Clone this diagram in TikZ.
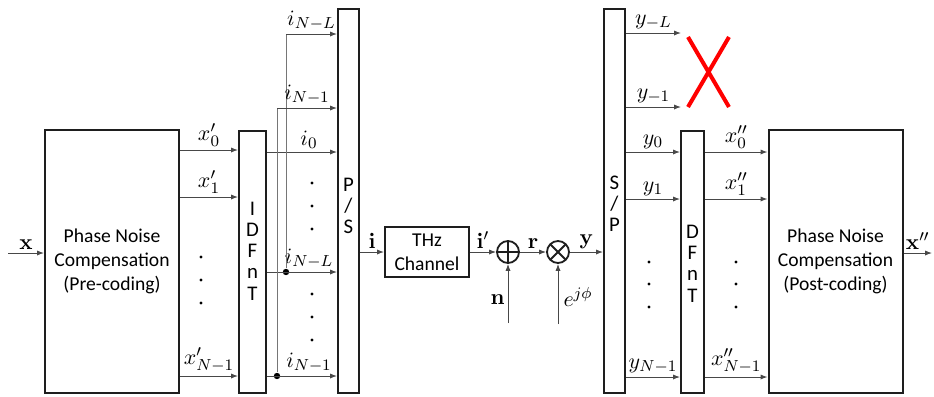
\documentclass[tikz,border=0pt]{standalone}
\usepackage{amsmath}
\usepackage{amssymb}
\usepackage[no-math]{fontspec}
\setmainfont{Carlito}
\usetikzlibrary{arrows.meta, positioning, shapes.geometric, calc}
\definecolor{linegrey}{HTML}{484848}
\definecolor{boxdark}{HTML}{1E1E1E}
\definecolor{crossred}{HTML}{FF0000}

\begin{document}
\begin{tikzpicture}[
  x=0.5pt, y=-0.5pt,
  font=\fontsize{9.8}{12}\selectfont,
  blk/.style={rectangle, draw=boxdark, line width=1pt, align=center, inner sep=0pt},
  pnc/.style={blk, minimum width=67pt, minimum height=131.5pt},
  strip/.style={blk, minimum width=12pt, minimum height=131pt},
  conv/.style={blk, minimum width=10.5pt, minimum height=192pt},
  letters/.style={align=center, inner sep=0pt, font=\fontsize{10.4}{10.6}\selectfont},
  mix/.style={circle, draw=boxdark, line width=0.9pt, minimum size=11pt, inner sep=0pt},
  ar/.style={-{Latex[length=3.5pt, width=2.6pt]}, linegrey, line width=0.5pt},
  ln/.style={linegrey!75, line width=0.5pt},
  lbl/.style={above, inner sep=1.5pt, text=black, font=\fontsize{11}{12}\selectfont},
  junc/.style={circle, fill=black, inner sep=0pt, minimum size=3.2pt}]
\useasboundingbox (0,0) rectangle (934,397);
% blocks
\node[pnc] (pre) at (112,261.5) {Phase Noise\\Compensation\\(Pre-coding)};
\node[strip, minimum width=13.5pt,
      label={[letters, yshift=5.5pt]center:I\\D\\F\\n\\T}] (idft) at (252.5,262) {};
\node[conv, label={[letters, yshift=-2.5pt]center:P\\/\\S}] (ps) at (348.5,201) {};
\node[blk, minimum width=42pt, minimum height=25pt] (thz) at (427,252) {THz\\Channel};
\node[mix, path picture={\draw[boxdark, line width=0.9pt]
      (path picture bounding box.north) -- (path picture bounding box.south)
      (path picture bounding box.west) -- (path picture bounding box.east);}] (add) at (508,252) {};
\node[mix, path picture={\draw[boxdark, line width=0.9pt]
      (path picture bounding box.north east) -- (path picture bounding box.south west)
      (path picture bounding box.north west) -- (path picture bounding box.south east);}] (mul) at (558,252) {};
\node[conv, label={[letters, yshift=-1.5pt]center:S\\/\\P}] (sp) at (614.5,200.5) {};
\node[strip, minimum width=11.5pt,
      label={[letters, yshift=-0.8pt]center:D\\F\\n\\T}] (dft) at (692.5,262) {};
\node[pnc] (post) at (835.5,261.5) {Phase Noise\\Compensation\\(Post-coding)};
% row heights
\coordinate (r0) at (0,150); \coordinate (r1) at (0,197); \coordinate (rN) at (0,376);
\coordinate (s0) at (0,152); \coordinate (sL) at (0,272);
\coordinate (u0) at (0,152); \coordinate (u1) at (0,199); \coordinate (uN) at (0,377);
\coordinate (xin) at (8,253); \coordinate (xout) at (932,253);
\coordinate (tL) at (286,34); \coordinate (t1) at (277,108);
\coordinate (eL) at (681,33); \coordinate (e1) at (681,107);
\coordinate (nsrc) at (508,323); \coordinate (psrc) at (558,324);
\node[junc] (jL) at (286,272) {};
\node[junc] (j1) at (277,376) {};
% transmitter side
\draw[ar] (xin) -- node[lbl]{$\mathbf{x}$} (pre.west |- xin);
\draw[ar] (pre.east |- r0) -- node[lbl]{$x'_0$} (idft.west |- r0);
\draw[ar] (pre.east |- r1) -- node[lbl]{$x'_1$} (idft.west |- r1);
\draw[ar] (pre.east |- rN) -- node[lbl]{$x'_{N-1}$} (idft.west |- rN);
\fill (201,257) circle (0.8pt) (201,280) circle (0.8pt) (201,303) circle (0.8pt);
\draw[ar] (idft.east |- s0) -- node[lbl, pos=0.6]{$i_0$} (ps.west |- s0);
\draw[ar] (idft.east |- sL) -- node[lbl, pos=0.6]{$i_{N-L}$} (ps.west |- sL);
\draw[ar] (idft.east |- rN) -- node[lbl, pos=0.6]{$i_{N-1}$} (ps.west |- rN);
\draw[ln] (jL) -- (tL); \draw[ln] (j1) -- (t1);
\draw[ar] (tL) -- node[lbl]{$i_{N-L}$} (ps.west |- tL);
\draw[ar] (t1) -- node[lbl, pos=0.5]{$i_{N-1}$} (ps.west |- t1);
\fill (312,183) circle (0.8pt) (312,206) circle (0.8pt) (312,229) circle (0.8pt);
\fill (312,294) circle (0.8pt) (312,317) circle (0.8pt) (312,340) circle (0.8pt);
% channel
\draw[ar] (ps.east |- thz) -- node[lbl]{$\mathbf{i}$} (thz);
\draw[ar] (thz) -- node[lbl]{$\mathbf{i}'$} (add);
\draw[ar] (add) -- node[lbl]{$\mathbf{r}$} (mul);
\draw[ar] (mul) -- node[lbl]{$\mathbf{y}$} (sp.west |- mul);
\draw[ar] (nsrc) -- node[lbl, left, pos=0.4]{$\mathbf{n}$} (add);
\draw[ar] (psrc) -- node[lbl, right, pos=0.45, xshift=1pt]{$e^{j\phi}$} (mul);
% receiver side
\draw[ar] (sp.east |- eL) -- node[lbl]{$y_{-L}$} (eL);
\draw[ar] (sp.east |- e1) -- node[lbl]{$y_{-1}$} (e1);
\draw[crossred, line width=2pt] (688,37) -- (729,107) (729,37) -- (688,107);
\draw[ar] (sp.east |- u0) -- node[lbl]{$y_0$} (dft.west |- u0);
\draw[ar] (sp.east |- u1) -- node[lbl]{$y_1$} (dft.west |- u1);
\draw[ar] (sp.east |- uN) -- node[lbl]{$y_{N-1}$} (dft.west |- uN);
\fill (649,262) circle (0.8pt) (649,284) circle (0.8pt) (649,307) circle (0.8pt);
\draw[ar] (dft.east |- u0) -- node[lbl]{$x''_0$} (post.west |- u0);
\draw[ar] (dft.east |- u1) -- node[lbl]{$x''_1$} (post.west |- u1);
\draw[ar] (dft.east |- uN) -- node[lbl]{$x''_{N-1}$} (post.west |- uN);
\fill (736,262) circle (0.8pt) (736,284) circle (0.8pt) (736,307) circle (0.8pt);
\draw[ar] (post.east |- xout) -- node[lbl]{$\mathbf{x}''$} (xout);
\end{tikzpicture}
\end{document}
